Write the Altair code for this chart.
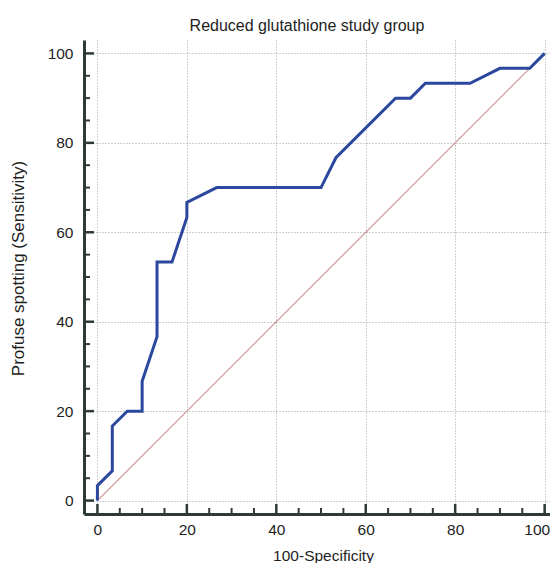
import altair as alt
import pandas as pd

# ROC curve points (100-Specificity, Sensitivity)
fpr = [0, 0, 3.33, 3.33, 6.67, 10, 10, 13.33, 13.33, 16.67, 20, 20, 26.67, 50, 53.33, 66.67, 70, 73.33, 83.33, 90, 96.67, 100]
tpr = [0, 3.33, 6.67, 16.67, 20, 20, 26.67, 36.67, 53.33, 53.33, 63.33, 66.67, 70, 70, 76.67, 90, 90, 93.33, 93.33, 96.67, 96.67, 100]

diag_x = [0, 100]
diag_y = [0, 100]

major_ticks = [0, 20, 40, 60, 80, 100]
minor_ticks = [5, 10, 15, 25, 30, 35, 45, 50, 55, 65, 70, 75, 85, 90, 95]

title_text = "Reduced glutathione study group"
x_title = "100-Specificity"
y_title = "Profuse spotting (Sensitivity)"

W, H = 466, 474
FONT = "Liberation Sans"
AXIS_COLOR = "#2e3a3a"
TXT = "#1e1e1e"

roc = pd.DataFrame({"x": fpr, "y": tpr, "i": list(range(len(fpr)))})
diag = pd.DataFrame({"x": diag_x, "y": diag_y})
maj = pd.DataFrame({"v": major_ticks})
mino = pd.DataFrame({"v": minor_ticks})

xs = alt.Scale(domain=[-3, 101.2], nice=False, zero=False)
ys = alt.Scale(domain=[-3, 103], nice=False, zero=False)

common_axis = dict(
    values=major_ticks, grid=True, gridDash=[1, 2], gridColor="#a0a0a0", gridWidth=1,
    domainColor=AXIS_COLOR, domainWidth=3, tickSize=0, labelFont=FONT, labelFontSize=15.5,
    labelColor=TXT, titleFont=FONT, titleFontWeight="normal", titleColor=TXT,
)

x_axis = alt.Axis(title=x_title, labelPadding=8, titleFontSize=15.5,
                  labelFlush=6, labelFlushOffset=5,
                  titleX=239, titleY=46, titleAlign="center", titleBaseline="alphabetic",
                  **common_axis)
y_axis = alt.Axis(title=y_title, labelPadding=11, titleFontSize=17,
                  titleX=-66, titleY=228, titleAngle=270, titleAlign="center",
                  titleBaseline="middle", **common_axis)

curve = alt.Chart(roc).mark_line(color="#2b479e", strokeWidth=3, strokeJoin="miter").encode(
    x=alt.X("x:Q", scale=xs, axis=x_axis),
    y=alt.Y("y:Q", scale=ys, axis=y_axis),
    order="i:Q",
)

diagonal = alt.Chart(diag).mark_line(color="#cc8c8c", strokeWidth=1.1).encode(
    x=alt.X("x:Q", scale=xs),
    y=alt.Y("y:Q", scale=ys),
)

x_major = alt.Chart(maj).mark_rule(color=AXIS_COLOR, strokeWidth=2.5).encode(
    x=alt.X("v:Q", scale=xs), y=alt.value(H), y2=alt.value(H - 10))
x_minor = alt.Chart(mino).mark_rule(color=AXIS_COLOR, strokeWidth=2).encode(
    x=alt.X("v:Q", scale=xs), y=alt.value(H), y2=alt.value(H - 6))
y_major = alt.Chart(maj).mark_rule(color=AXIS_COLOR, strokeWidth=2.5).encode(
    y=alt.Y("v:Q", scale=ys), x=alt.value(0), x2=alt.value(10))
y_minor = alt.Chart(mino).mark_rule(color=AXIS_COLOR, strokeWidth=2).encode(
    y=alt.Y("v:Q", scale=ys), x=alt.value(0), x2=alt.value(6))

chart = alt.layer(diagonal, curve, x_major, x_minor, y_major, y_minor).properties(
    width=W, height=H,
    title=alt.TitleParams(title_text, font=FONT, fontSize=16, fontWeight="normal",
                          color=TXT, anchor="middle", frame="group", offset=6, dx=-10),
    autosize=alt.AutoSizeParams(type="none"),
    padding={"left": 76, "top": 32, "right": 0, "bottom": 49},
).configure_view(stroke=None)

chart.save("out.html", embed_options={"renderer": "svg", "actions": False})
